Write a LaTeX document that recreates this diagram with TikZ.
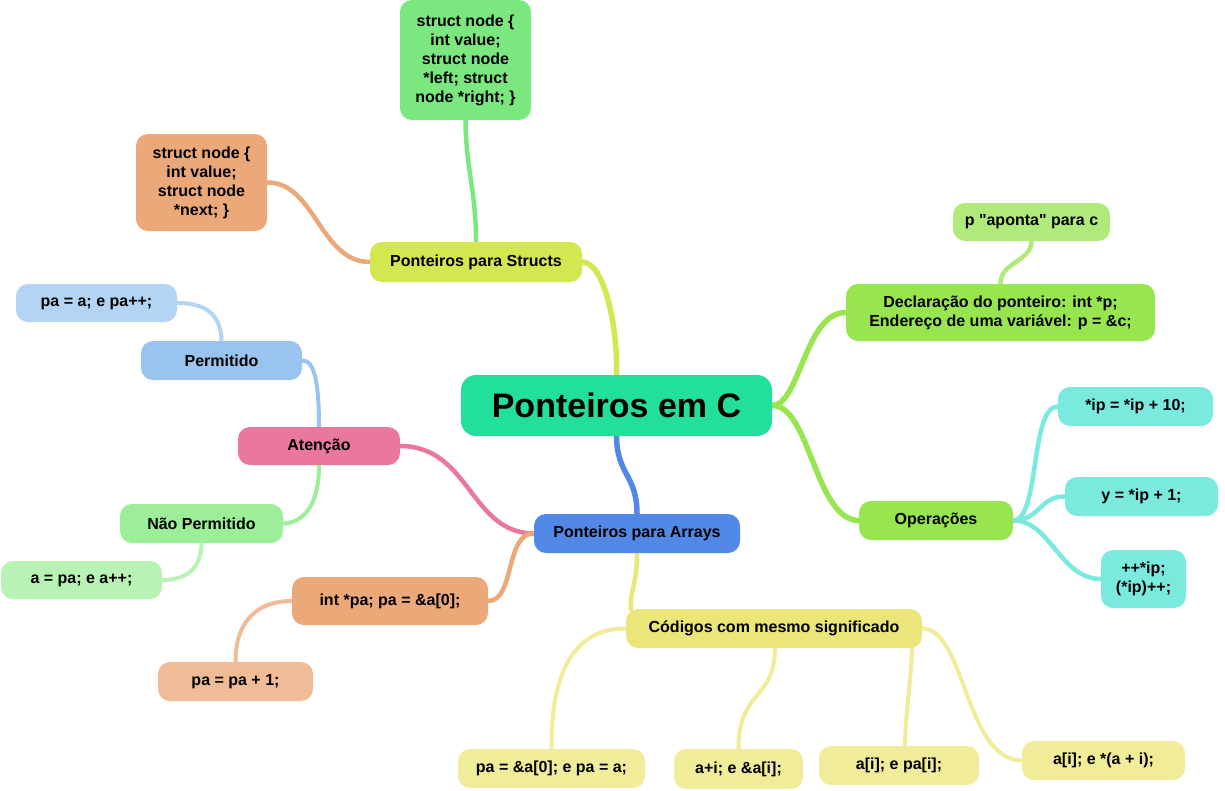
\documentclass[tikz,border=0pt]{standalone}
\usepackage{fontspec}
\setmainfont{Liberation Sans}[Ligatures=TeXOff]
\pgfdeclarelayer{bg}
\pgfsetlayers{bg,main}
\definecolor{cRoot}{HTML}{22E09A}
\definecolor{cStructs}{HTML}{D4E650}
\definecolor{cSone}{HTML}{7AE87E}
\definecolor{cOrange}{HTML}{EBA878}
\definecolor{cLime}{HTML}{97E650}
\definecolor{cApo}{HTML}{B0EA7A}
\definecolor{cCyan}{HTML}{7AEADF}
\definecolor{cBlue}{HTML}{5289E6}
\definecolor{cPink}{HTML}{EA789E}
\definecolor{cPerm}{HTML}{99C4EE}
\definecolor{cPaa}{HTML}{B4D4F4}
\definecolor{cNao}{HTML}{9DEE98}
\definecolor{cApa}{HTML}{B8F2B4}
\definecolor{cPeach}{HTML}{F0BC98}
\definecolor{cYel}{HTML}{EAE67A}
\definecolor{cYelL}{HTML}{F0EC9A}
\begin{document}
\begin{tikzpicture}[x=1pt,y=-1pt,
  box/.style={rounded corners=12pt, inner sep=0pt, align=center,
    font=\fontsize{16}{19}\selectfont\bfseries, text=black},
  conn/.style={line width=#1, line cap=round},
  conn/.default=4.5pt]
\useasboundingbox (0,0) rectangle (1225,790);

% nodes
\node[box, rounded corners=15pt, fill=cRoot, minimum width=311pt, minimum height=61pt,
  font=\fontsize{34}{40}\selectfont\bfseries] (root) at (616.5,405.5) {Ponteiros em C};
\node[box, fill=cStructs, minimum width=212pt, minimum height=40pt] (structs) at (476,262) {Ponteiros para Structs};
\node[box, fill=cSone, minimum width=131pt, minimum height=120pt] (s1) at (465.5,60) {struct node {\char`\{}\\int value;\\struct node\\*left; struct\\node *right; {\char`\}}};
\node[box, fill=cOrange, minimum width=131pt, minimum height=97pt] (s2) at (201.5,182.5) {struct node {\char`\{}\\int value;\\struct node\\*next; {\char`\}}};
\node[box, fill=cLime, minimum width=309pt, minimum height=57pt] (decl) at (1000.5,312.5) {Declaração do ponteiro: int *p;\\Endereço de uma variável: p = \&c;};
\node[box, fill=cApo, minimum width=157pt, minimum height=38pt] (aponta) at (1031.5,222) {p {\char34}aponta{\char34} para c};
\node[box, fill=cLime, minimum width=154pt, minimum height=39pt] (oper) at (936,520.5) {Operações};
\node[box, fill=cCyan, minimum width=155pt, minimum height=39pt] (ip10) at (1135.5,406.5) {*ip = *ip + 10;};
\node[box, fill=cCyan, minimum width=153pt, minimum height=39pt] (yip) at (1141.5,496.5) {y = *ip + 1;};
\node[box, fill=cCyan, minimum width=85pt, minimum height=58pt] (ppip) at (1143.5,579) {++*ip;\\(*ip)++;};
\node[box, fill=cBlue, minimum width=206pt, minimum height=39pt] (arrays) at (637,533.5) {Ponteiros para Arrays};
\node[box, fill=cPink, minimum width=162pt, minimum height=38pt] (atencao) at (319,446) {Atenção};
\node[box, fill=cPerm, minimum width=161pt, minimum height=39pt] (permitido) at (221.5,360.5) {Permitido};
\node[box, fill=cPaa, minimum width=161pt, minimum height=38pt] (paa) at (96.5,303) {pa = a; e pa++;};
\node[box, fill=cNao, minimum width=163pt, minimum height=39pt] (naoperm) at (201.5,523.5) {Não Permitido};
\node[box, fill=cApa, minimum width=161pt, minimum height=38pt] (apa) at (81.5,580) {a = pa; e a++;};
\node[box, fill=cOrange, minimum width=196pt, minimum height=48pt] (intpa) at (390,601) {int *pa; pa = \&a[0];};
\node[box, fill=cPeach, minimum width=155pt, minimum height=39pt] (pa1) at (235.5,681.5) {pa = pa + 1;};
\node[box, fill=cYel, minimum width=296pt, minimum height=39pt] (codigos) at (774,628.5) {Códigos com mesmo significado};
\node[box, fill=cYelL, minimum width=187pt, minimum height=39pt] (c1) at (551.5,768.5) {pa = \&a[0]; e pa = a;};
\node[box, fill=cYelL, minimum width=129pt, minimum height=40pt] (c2) at (738.5,769) {a+i; e \&a[i];};
\node[box, fill=cYelL, minimum width=160pt, minimum height=39pt] (c3) at (899,765.5) {a[i]; e pa[i];};
\node[box, fill=cYelL, minimum width=163pt, minimum height=39pt] (c4) at (1103.5,760.5) {a[i]; e *(a + i);};

% connectors
\begin{pgfonlayer}{bg}
\fill[white] (0,0) rectangle (1225,790);
\draw[conn=5.5pt, cStructs] (root.north) .. controls (618,330) and (605,262) .. (structs.east);
\draw[conn, cSone] (structs.north) .. controls (476,190) and (466,170) .. (s1.south);
\draw[conn, cOrange] (structs.west) .. controls (320,262) and (315,182) .. (s2.east);
\draw[conn=5.5pt, cLime] (root.east) .. controls (800,405) and (805,312) .. (decl.west);
\draw[conn, cApo] (decl.north) .. controls (1000,262) and (1031,262) .. (aponta.south);
\draw[conn=5.5pt, cLime] (root.east) .. controls (810,405) and (815,520) .. (oper.west);
\draw[conn, cCyan] (oper.east) .. controls (1040,520) and (1030,406) .. (ip10.west);
\draw[conn, cCyan] (oper.east) .. controls (1040,520) and (1040,496) .. (yip.west);
\draw[conn, cCyan] (oper.east) .. controls (1050,520) and (1060,579) .. (ppip.west);
\draw[conn=5.5pt, cBlue] (root.south) .. controls (617,475) and (637,475) .. (arrays.north);
\draw[conn, cPink] (arrays.west) .. controls (470,533) and (470,446) .. (atencao.east);
\draw[conn=4pt, cPerm] (atencao.north) .. controls (319,385) and (315,360) .. (permitido.east);
\draw[conn=4pt, cPaa] (permitido.north) .. controls (221,310) and (200,303) .. (paa.east);
\draw[conn=4pt, cNao] (atencao.south) .. controls (319,510) and (300,523) .. (naoperm.east);
\draw[conn=4pt, cApa] (naoperm.south) .. controls (201,570) and (185,580) .. (apa.east);
\draw[conn, cOrange] (arrays.west) .. controls (505,533) and (515,601) .. (intpa.east);
\draw[conn=4pt, cPeach] (intpa.west) .. controls (250,601) and (235,630) .. (pa1.north);
\draw[conn, cYel] (arrays.south) .. controls (637,585) and (630,590) .. ([xshift=5pt]codigos.north west);
\draw[conn=4pt, cYelL] (codigos.west) .. controls (560,628) and (551,700) .. (c1.north);
\draw[conn=4pt, cYelL] ([xshift=1pt]codigos.south) .. controls (775,700) and (738,690) .. (c2.north);
\draw[conn=4pt, cYelL] ([xshift=-10pt]codigos.south east) .. controls (910,690) and (905,720) .. ([xshift=6pt]c3.north);
\draw[conn=4pt, cYelL] (codigos.east) .. controls (965,628) and (965,760) .. (c4.west);
\end{pgfonlayer}
\end{tikzpicture}
\end{document}
